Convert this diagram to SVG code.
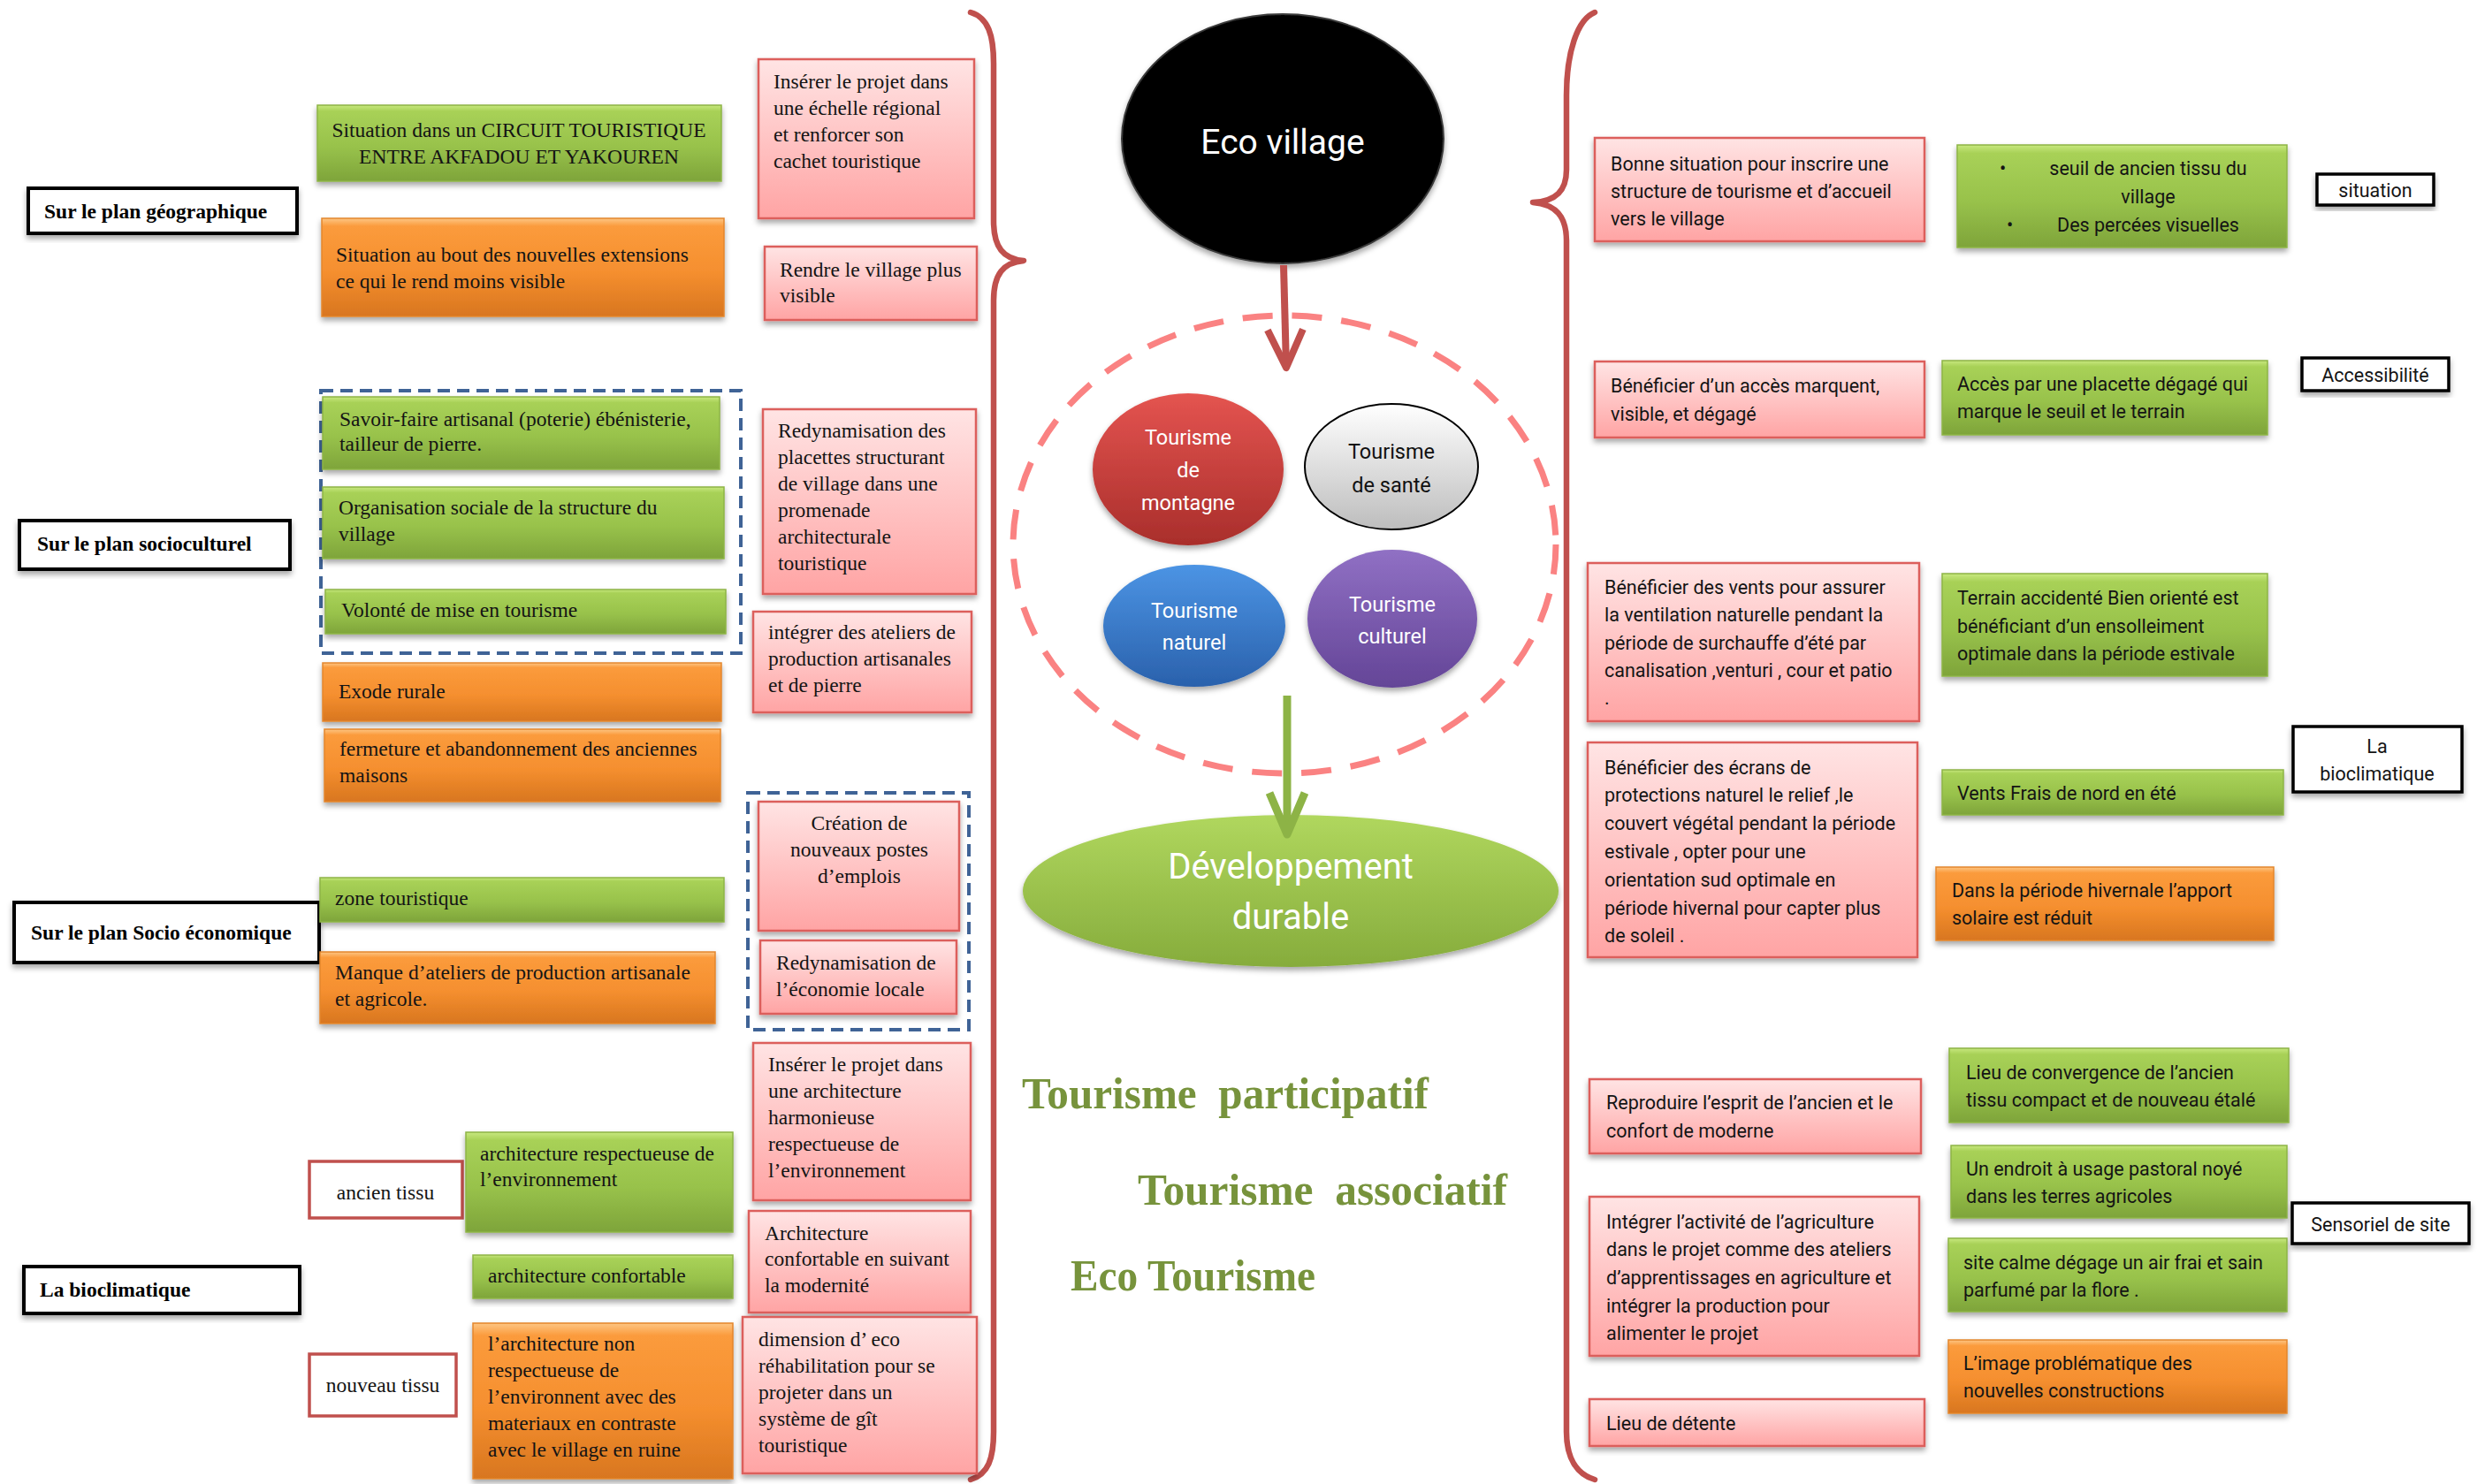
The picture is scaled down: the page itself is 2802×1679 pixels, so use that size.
<svg xmlns="http://www.w3.org/2000/svg" width="2802" height="1679" viewBox="0 0 2802 1679">
<defs>
  <style>
    .tr { font-family: "Liberation Serif", "Times New Roman", serif; font-size: 23.5px; fill: #141414; }
    .trb { font-family: "Liberation Serif", "Times New Roman", serif; font-size: 23.5px; font-weight: bold; fill: #000; }
    .cb { font-family: Roboto, "Liberation Sans", sans-serif; font-size: 21.5px; fill: #141414; }
    .mid { text-anchor: middle; }
    .green { fill: url(#gGreen); stroke: #8db446; stroke-width: 1.5; filter: url(#sh); }
    .orange { fill: url(#gOrange); stroke: #e3862c; stroke-width: 1.5; filter: url(#sh); }
    .pink { fill: url(#gPink); stroke: #dc5f5b; stroke-width: 2.5; filter: url(#sh); }
    .label { fill: #fff; stroke: #000; stroke-width: 4; filter: url(#sh); }
    .tissu { fill: #fff; stroke: #c0504d; stroke-width: 3.5; }
    .dashbox { fill: none; stroke: #3f6396; stroke-width: 4; stroke-dasharray: 14 8; }
    .brace { fill: none; stroke: #c0504d; stroke-width: 6.5; stroke-linejoin: round; stroke-linecap: round; }
    .bub { font-family: Roboto, "Liberation Sans", sans-serif; font-size: 23.5px; fill: #fff; text-anchor: middle; }
    .big { font-family: "Liberation Serif", "Times New Roman", serif; font-weight: bold; font-size: 50px; fill: #77933c; }
  </style>
  <linearGradient id="gGreen" x1="0" y1="0" x2="0" y2="1">
    <stop offset="0" stop-color="#c8e87f"/>
    <stop offset="0.08" stop-color="#a8d157"/>
    <stop offset="0.55" stop-color="#98c24b"/>
    <stop offset="1" stop-color="#7ea43a"/>
  </linearGradient>
  <linearGradient id="gOrange" x1="0" y1="0" x2="0" y2="1">
    <stop offset="0" stop-color="#fdc684"/>
    <stop offset="0.08" stop-color="#fb9b3c"/>
    <stop offset="0.55" stop-color="#f58f2f"/>
    <stop offset="1" stop-color="#d8761f"/>
  </linearGradient>
  <linearGradient id="gPink" x1="0" y1="0" x2="0" y2="1">
    <stop offset="0" stop-color="#ffe4e4"/>
    <stop offset="1" stop-color="#ffa4a4"/>
  </linearGradient>
  <linearGradient id="gRed" x1="0" y1="0" x2="0" y2="1">
    <stop offset="0" stop-color="#e45450"/>
    <stop offset="1" stop-color="#a92e2b"/>
  </linearGradient>
  <linearGradient id="gGray" x1="0" y1="0" x2="0" y2="1">
    <stop offset="0" stop-color="#ffffff"/>
    <stop offset="1" stop-color="#bdbdbd"/>
  </linearGradient>
  <linearGradient id="gBlue" x1="0" y1="0" x2="0" y2="1">
    <stop offset="0" stop-color="#4c94e4"/>
    <stop offset="1" stop-color="#2a61ac"/>
  </linearGradient>
  <linearGradient id="gPurple" x1="0" y1="0" x2="0" y2="1">
    <stop offset="0" stop-color="#9070c4"/>
    <stop offset="1" stop-color="#644597"/>
  </linearGradient>
  <linearGradient id="gDev" x1="0" y1="0" x2="0" y2="1">
    <stop offset="0" stop-color="#b0d75e"/>
    <stop offset="1" stop-color="#86ac3c"/>
  </linearGradient>
  <filter id="sh" x="-5%" y="-10%" width="110%" height="130%">
    <feDropShadow dx="0" dy="4" stdDeviation="3" flood-color="#000" flood-opacity="0.35"/>
  </filter>
  <marker id="headRed" markerUnits="userSpaceOnUse" orient="auto" refX="0" refY="0" markerWidth="60" markerHeight="60" overflow="visible">
    <path d="M-43,-20 L0,0 L-43,20" fill="none" stroke="#c0504d" stroke-width="8" stroke-linejoin="round"/>
  </marker>
  <marker id="headGreen" markerUnits="userSpaceOnUse" orient="auto" refX="0" refY="0" markerWidth="60" markerHeight="60" overflow="visible">
    <path d="M-47,-20 L0,0 L-47,20" fill="none" stroke="#8db346" stroke-width="9" stroke-linejoin="round"/>
  </marker>
</defs>

<rect width="2802" height="1679" fill="#fff"/>

<!-- braces framing the centre column -->
<g id="braces">
  <path class="brace" d="M1098,14 C1118,20 1124,40 1124,72 L1124,250 C1124,280 1135,293 1158,295 C1135,297 1124,310 1124,340 L1124,1620 C1124,1650 1118,1668 1098,1674"/>
  <path class="brace" d="M1804,14 C1784,22 1772,60 1772,108 L1772,192 C1772,216 1760,228 1734,229 C1760,231 1772,245 1772,272 L1772,1620 C1772,1650 1784,1668 1804,1674"/>
</g>

<!-- dashed groupings -->
<g id="groupings">
  <rect class="dashbox" x="363" y="442" width="475" height="297"/>
  <rect class="dashbox" x="846" y="897" width="250" height="268"/>
  <ellipse cx="1453" cy="616" rx="307" ry="259" fill="none" stroke="#fa8282" stroke-width="7" stroke-dasharray="34 22"/>
</g>

<!-- left: geographic -->
<g id="n-geo">
  <rect class="label" x="32" y="213" width="304" height="51"/>
  <text class="trb" x="50" y="247">Sur le plan géographique</text>
</g>
<g id="n-circuit">
  <rect class="green" x="359" y="119" width="457" height="86"/>
  <text class="tr mid"><tspan x="587" y="155">Situation dans un CIRCUIT TOURISTIQUE</tspan><tspan x="587" y="185">ENTRE AKFADOU ET YAKOUREN</tspan></text>
</g>
<g id="n-bout">
  <rect class="orange" x="364" y="247" width="455" height="111"/>
  <text class="tr"><tspan x="380" y="296">Situation au bout des nouvelles extensions</tspan><tspan x="380" y="326">ce qui le rend moins visible</tspan></text>
</g>
<g id="n-inserer1">
  <rect class="pink" x="858" y="67" width="244" height="180"/>
  <text class="tr"><tspan x="875" y="100">Insérer le projet dans</tspan><tspan x="875" y="130">une échelle régional</tspan><tspan x="875" y="160">et renforcer son</tspan><tspan x="875" y="190">cachet touristique</tspan></text>
</g>
<g id="n-rendre">
  <rect class="pink" x="865" y="279" width="240" height="83"/>
  <text class="tr"><tspan x="882" y="313">Rendre le village plus</tspan><tspan x="882" y="342">visible</tspan></text>
</g>

<!-- left: sociocultural -->
<g id="n-socio">
  <rect class="label" x="22" y="589" width="306" height="55"/>
  <text class="trb" x="42" y="623">Sur le plan socioculturel</text>
</g>
<g id="n-savoir">
  <rect class="green" x="365" y="449" width="449" height="82"/>
  <text class="tr"><tspan x="384" y="482">Savoir-faire artisanal (poterie) ébénisterie,</tspan><tspan x="384" y="510">tailleur de pierre.</tspan></text>
</g>
<g id="n-orga">
  <rect class="green" x="365" y="551" width="454" height="81"/>
  <text class="tr"><tspan x="383" y="582">Organisation sociale de la structure du</tspan><tspan x="383" y="612">village</tspan></text>
</g>
<g id="n-volonte">
  <rect class="green" x="368" y="667" width="453" height="50"/>
  <text class="tr" x="386" y="698">Volonté de mise en tourisme</text>
</g>
<g id="n-exode">
  <rect class="orange" x="365" y="750" width="451" height="66"/>
  <text class="tr" x="383" y="790">Exode rurale</text>
</g>
<g id="n-fermeture">
  <rect class="orange" x="367" y="825" width="448" height="82"/>
  <text class="tr"><tspan x="384" y="855">fermeture et abandonnement  des anciennes</tspan><tspan x="384" y="885">maisons</tspan></text>
</g>
<g id="n-redyn1">
  <rect class="pink" x="863" y="463" width="241" height="209"/>
  <text class="tr"><tspan x="880" y="495">Redynamisation des</tspan><tspan x="880" y="525">placettes structurant</tspan><tspan x="880" y="555">de village dans une</tspan><tspan x="880" y="585">promenade</tspan><tspan x="880" y="615">architecturale</tspan><tspan x="880" y="645">touristique</tspan></text>
</g>
<g id="n-ateliers">
  <rect class="pink" x="852" y="692" width="247" height="114"/>
  <text class="tr"><tspan x="869" y="723">intégrer des ateliers de</tspan><tspan x="869" y="753">production artisanales</tspan><tspan x="869" y="783">et de pierre</tspan></text>
</g>

<!-- left: socio-economic -->
<g id="n-eco">
  <rect class="label" x="16" y="1021" width="345" height="68"/>
  <text class="trb" x="35" y="1063">Sur le plan Socio économique</text>
</g>
<g id="n-zone">
  <rect class="green" x="362" y="993" width="457" height="50"/>
  <text class="tr" x="379" y="1024">zone touristique</text>
</g>
<g id="n-manque">
  <rect class="orange" x="362" y="1077" width="447" height="81"/>
  <text class="tr"><tspan x="379" y="1108">Manque d’ateliers de production artisanale</tspan><tspan x="379" y="1138">et agricole.</tspan></text>
</g>
<g id="n-creation">
  <rect class="pink" x="858" y="907" width="227" height="146"/>
  <text class="tr mid"><tspan x="972" y="939">Création de</tspan><tspan x="972" y="969">nouveaux postes</tspan><tspan x="972" y="999">d’emplois</tspan></text>
</g>
<g id="n-redyn2">
  <rect class="pink" x="860" y="1064" width="222" height="83"/>
  <text class="tr"><tspan x="878" y="1097">Redynamisation de</tspan><tspan x="878" y="1127">l’économie locale</tspan></text>
</g>
<g id="n-inserer2">
  <rect class="pink" x="852" y="1180" width="246" height="178"/>
  <text class="tr"><tspan x="869" y="1212">Insérer le projet dans</tspan><tspan x="869" y="1242">une architecture</tspan><tspan x="869" y="1272">harmonieuse</tspan><tspan x="869" y="1302">respectueuse de</tspan><tspan x="869" y="1332">l’environnement</tspan></text>
</g>

<!-- left: bioclimatic -->
<g id="n-bio">
  <rect class="label" x="27" y="1433" width="312" height="53"/>
  <text class="trb" x="45" y="1467">La bioclimatique</text>
</g>
<g id="n-ancien">
  <rect class="tissu" x="350" y="1314" width="173" height="64"/>
  <text class="tr mid" x="436" y="1357">ancien tissu</text>
</g>
<g id="n-archi-resp">
  <rect class="green" x="527" y="1281" width="302" height="113"/>
  <text class="tr"><tspan x="543" y="1313">architecture respectueuse de</tspan><tspan x="543" y="1342">l’environnement</tspan></text>
</g>
<g id="n-archi-conf">
  <rect class="green" x="535" y="1420" width="294" height="49"/>
  <text class="tr" x="552" y="1451">architecture confortable</text>
</g>
<g id="n-archi-mod">
  <rect class="pink" x="847" y="1370" width="251" height="115"/>
  <text class="tr"><tspan x="865" y="1403">Architecture</tspan><tspan x="865" y="1432">confortable en suivant</tspan><tspan x="865" y="1462">la modernité</tspan></text>
</g>
<g id="n-nouveau">
  <rect class="tissu" x="350" y="1532" width="166" height="70"/>
  <text class="tr mid" x="433" y="1575">nouveau tissu</text>
</g>
<g id="n-archi-non">
  <rect class="orange" x="535" y="1497" width="294" height="176"/>
  <text class="tr"><tspan x="552" y="1528">l’architecture non</tspan><tspan x="552" y="1558">respectueuse de</tspan><tspan x="552" y="1588">l’environnent avec des</tspan><tspan x="552" y="1618">materiaux en contraste</tspan><tspan x="552" y="1648">avec le village  en ruine</tspan></text>
</g>
<g id="n-dimension">
  <rect class="pink" x="840" y="1490" width="265" height="177"/>
  <text class="tr"><tspan x="858" y="1523">dimension d’ eco</tspan><tspan x="858" y="1553">réhabilitation pour se</tspan><tspan x="858" y="1583">projeter dans un</tspan><tspan x="858" y="1613">système de gît</tspan><tspan x="858" y="1643">touristique</tspan></text>
</g>

<!-- centre -->
<g id="n-ecovillage">
  <ellipse cx="1451" cy="157" rx="182" ry="141" fill="#050505" stroke="#3a3a3a" stroke-width="2" filter="url(#sh)"/>
  <text x="1451" y="174" text-anchor="middle" font-family="Roboto, 'Liberation Sans', sans-serif" font-size="39" fill="#fff">Eco village</text>
</g>
<g id="n-montagne">
  <ellipse cx="1344" cy="531" rx="108" ry="86" fill="url(#gRed)" filter="url(#sh)"/>
  <text class="bub"><tspan x="1344" y="503">Tourisme</tspan><tspan x="1344" y="540">de</tspan><tspan x="1344" y="577">montagne</tspan></text>
</g>
<g id="n-sante">
  <ellipse cx="1574" cy="528" rx="98" ry="71" fill="url(#gGray)" stroke="#000" stroke-width="2"/>
  <text class="bub" style="fill:#111"><tspan x="1574" y="519">Tourisme</tspan><tspan x="1574" y="557">de santé</tspan></text>
</g>
<g id="n-naturel">
  <ellipse cx="1351" cy="708" rx="103" ry="69" fill="url(#gBlue)" filter="url(#sh)"/>
  <text class="bub"><tspan x="1351" y="699">Tourisme</tspan><tspan x="1351" y="735">naturel</tspan></text>
</g>
<g id="n-culturel">
  <ellipse cx="1575" cy="700" rx="96" ry="78" fill="url(#gPurple)" filter="url(#sh)"/>
  <text class="bub"><tspan x="1575" y="692">Tourisme</tspan><tspan x="1575" y="728">culturel</tspan></text>
</g>
<g id="n-developpement">
  <ellipse cx="1460" cy="1008" rx="303" ry="86" fill="url(#gDev)" filter="url(#sh)"/>
  <text x="1460" y="994" text-anchor="middle" font-family="Roboto, 'Liberation Sans', sans-serif" font-size="40" fill="#fff">Développement</text>
  <text x="1460" y="1051" text-anchor="middle" font-family="Roboto, 'Liberation Sans', sans-serif" font-size="40" fill="#fff">durable</text>
</g>

<g id="connectors">
  <path d="M1452,300 L1455,416" fill="none" stroke="#c0504d" stroke-width="8" marker-end="url(#headRed)"/>
  <path d="M1456,787 L1456,944" fill="none" stroke="#8db346" stroke-width="9" marker-end="url(#headGreen)"/>
</g>

<g id="n-tourism-types">
  <text class="big" x="1156" y="1254" textLength="460" lengthAdjust="spacingAndGlyphs" xml:space="preserve">Tourisme  participatif</text>
  <text class="big" x="1287" y="1363" textLength="418" lengthAdjust="spacingAndGlyphs" xml:space="preserve">Tourisme  associatif</text>
  <text class="big" x="1211" y="1460" textLength="277" lengthAdjust="spacingAndGlyphs">Eco Tourisme</text>
</g>

<!-- right: situation -->
<g id="n-bonne">
  <rect class="pink" x="1804" y="156" width="373" height="117"/>
  <text class="cb"><tspan x="1822" y="193">Bonne situation pour inscrire une</tspan><tspan x="1822" y="224">structure de tourisme et d’accueil</tspan><tspan x="1822" y="255">vers le village</tspan></text>
</g>
<g id="n-seuil">
  <rect class="green" x="2214" y="164" width="373" height="116"/>
  <text class="cb" x="2262" y="198">•</text>
  <text class="cb" x="2270" y="262">•</text>
  <text class="cb mid"><tspan x="2430" y="198">seuil de ancien tissu du</tspan><tspan x="2430" y="230">village</tspan><tspan x="2430" y="262">Des percées visuelles</tspan></text>
</g>
<g id="n-situation">
  <rect class="label" x="2621" y="197" width="132" height="35" style="stroke-width:3.5"/>
  <text class="cb mid" x="2687" y="223">situation</text>
</g>

<!-- right: accessibility -->
<g id="n-acces-b">
  <rect class="pink" x="1804" y="409" width="373" height="86"/>
  <text class="cb"><tspan x="1822" y="444">Bénéficier d’un accès marquent,</tspan><tspan x="1822" y="476">visible, et dégagé</tspan></text>
</g>
<g id="n-acces-g">
  <rect class="green" x="2197" y="408" width="368" height="84"/>
  <text class="cb"><tspan x="2214" y="442">Accès par une placette dégagé qui</tspan><tspan x="2214" y="473">marque le seuil et le terrain</tspan></text>
</g>
<g id="n-accessibilite">
  <rect class="label" x="2604" y="405" width="166" height="37" style="stroke-width:3.5"/>
  <text class="cb mid" x="2687" y="432">Accessibilité</text>
</g>

<!-- right: bioclimatic -->
<g id="n-vents">
  <rect class="pink" x="1796" y="637" width="375" height="179"/>
  <text class="cb"><tspan x="1815" y="672">Bénéficier des vents pour assurer</tspan><tspan x="1815" y="703">la ventilation naturelle pendant la</tspan><tspan x="1815" y="735">période de surchauffe d’été par</tspan><tspan x="1815" y="766">canalisation ,venturi , cour et patio</tspan><tspan x="1815" y="797">.</tspan></text>
</g>
<g id="n-terrain">
  <rect class="green" x="2197" y="649" width="368" height="116"/>
  <text class="cb"><tspan x="2214" y="684">Terrain accidenté Bien orienté est</tspan><tspan x="2214" y="716">bénéficiant d’un  ensolleiment</tspan><tspan x="2214" y="747">optimale dans la période estivale</tspan></text>
</g>
<g id="n-ecrans">
  <rect class="pink" x="1796" y="840" width="373" height="243"/>
  <text class="cb"><tspan x="1815" y="876">Bénéficier des écrans de</tspan><tspan x="1815" y="907">protections naturel le relief ,le</tspan><tspan x="1815" y="939">couvert végétal pendant la période</tspan><tspan x="1815" y="971">estivale , opter pour une</tspan><tspan x="1815" y="1003">orientation sud optimale en</tspan><tspan x="1815" y="1035">période hivernal pour capter plus</tspan><tspan x="1815" y="1066">de soleil .</tspan></text>
</g>
<g id="n-frais">
  <rect class="green" x="2197" y="871" width="386" height="51"/>
  <text class="cb" x="2214" y="905">Vents Frais de nord en été</text>
</g>
<g id="n-bio-r">
  <rect class="label" x="2594" y="822" width="191" height="74" style="stroke-width:3.5"/>
  <text class="cb mid"><tspan x="2689" y="852">La</tspan><tspan x="2689" y="883">bioclimatique</tspan></text>
</g>
<g id="n-hivernale">
  <rect class="orange" x="2190" y="981" width="382" height="83"/>
  <text class="cb"><tspan x="2208" y="1015">Dans la période hivernale l’apport</tspan><tspan x="2208" y="1046">solaire est réduit</tspan></text>
</g>

<!-- right: sensory -->
<g id="n-reproduire">
  <rect class="pink" x="1798" y="1221" width="375" height="84"/>
  <text class="cb"><tspan x="1817" y="1255">Reproduire l’esprit de l’ancien et le</tspan><tspan x="1817" y="1287">confort de moderne</tspan></text>
</g>
<g id="n-convergence">
  <rect class="green" x="2205" y="1186" width="384" height="84"/>
  <text class="cb"><tspan x="2224" y="1221">Lieu de convergence de l’ancien</tspan><tspan x="2224" y="1252">tissu compact et de nouveau étalé</tspan></text>
</g>
<g id="n-endroit">
  <rect class="green" x="2207" y="1296" width="380" height="82"/>
  <text class="cb"><tspan x="2224" y="1330">Un endroit à usage pastoral noyé</tspan><tspan x="2224" y="1361">dans les terres agricoles</tspan></text>
</g>
<g id="n-sensoriel">
  <rect class="label" x="2593" y="1361" width="200" height="46" style="stroke-width:3.5"/>
  <text class="cb mid" x="2693" y="1393">Sensoriel de site</text>
</g>
<g id="n-integrer">
  <rect class="pink" x="1798" y="1354" width="373" height="180"/>
  <text class="cb"><tspan x="1817" y="1390">Intégrer l’activité de l’agriculture</tspan><tspan x="1817" y="1421">dans le projet comme des ateliers</tspan><tspan x="1817" y="1453">d’apprentissages en agriculture et</tspan><tspan x="1817" y="1485">intégrer la production pour</tspan><tspan x="1817" y="1516">alimenter le projet</tspan></text>
</g>
<g id="n-calme">
  <rect class="green" x="2204" y="1401" width="383" height="83"/>
  <text class="cb"><tspan x="2221" y="1436">site calme dégage un air frai et sain</tspan><tspan x="2221" y="1467">parfumé par la flore .</tspan></text>
</g>
<g id="n-image">
  <rect class="orange" x="2204" y="1516" width="383" height="83"/>
  <text class="cb"><tspan x="2221" y="1550">L’image problématique des</tspan><tspan x="2221" y="1581">nouvelles constructions</tspan></text>
</g>
<g id="n-detente">
  <rect class="pink" x="1798" y="1583" width="379" height="53"/>
  <text class="cb" x="1817" y="1618">Lieu de détente</text>
</g>
</svg>
